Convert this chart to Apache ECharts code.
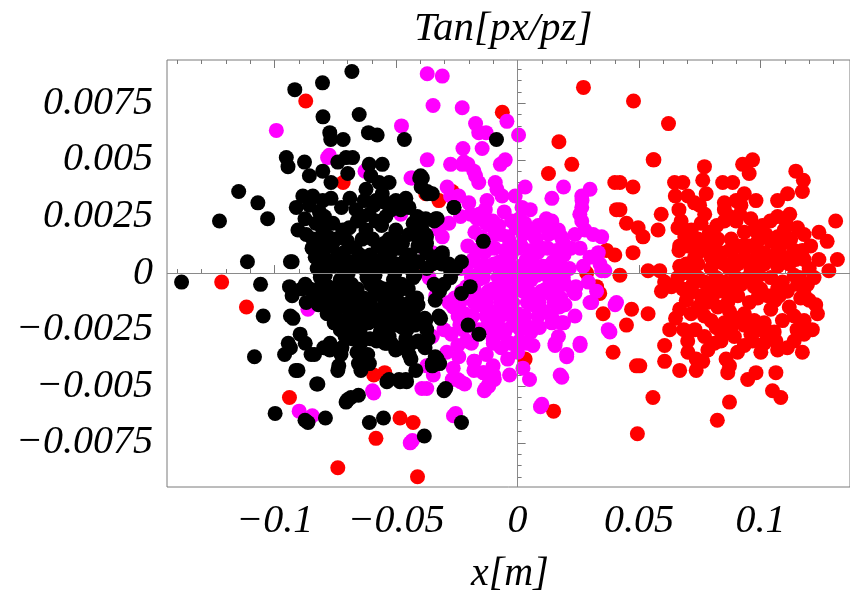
<!DOCTYPE html>
<html>
<head>
<meta charset="utf-8">
<script src="https://cdn.jsdelivr.net/npm/echarts@6/dist/echarts.min.js"></script>
<style>
  html, body { margin: 0; padding: 0; background: #fff; }
  #chart { width: 850px; height: 596px; }
</style>
</head>
<body>
<div id="chart"></div>
<script>
// tick values
const xMajor = [-0.1, -0.05, 0, 0.05, 0.1];
const xMinor = [-0.14, -0.13, -0.12, -0.11, -0.09, -0.08, -0.07, -0.06, -0.04, -0.03, -0.02, -0.01,
  0.01, 0.02, 0.03, 0.04, 0.06, 0.07, 0.08, 0.09, 0.11, 0.12, 0.13];
const yMajor = [-0.0075, -0.005, -0.0025, 0, 0.0025, 0.005, 0.0075];
const yMinor = [-0.009, -0.0085, -0.008, -0.007, -0.0065, -0.006, -0.0055, -0.0045, -0.004, -0.0035, -0.003,
  -0.002, -0.0015, -0.001, -0.0005, 0.0005, 0.001, 0.0015, 0.002, 0.003, 0.0035, 0.004, 0.0045,
  0.0055, 0.006, 0.0065, 0.007, 0.008, 0.0085, 0.009];

// [x (m), Tan[px/pz]]
const redPts = [
  [-0.0872,0.0076],[-0.0718,0.0040],[-0.0378,0.0035],[-0.0324,0.0032],[-0.0269,0.0036],[-0.1218,-0.0004],
  [-0.1116,-0.0015],[-0.0939,-0.0055],[-0.0740,-0.0086],[-0.0583,-0.0073],[-0.0412,-0.0090],[-0.0484,-0.0064],
  [-0.0430,-0.0066],[-0.0592,-0.0045],[-0.0547,-0.0044],[0.0148,-0.0061],[-0.0375,0.0001],[-0.0063,0.0071],
  [-0.0549,0.0007],[0.0031,-0.0038],
  [0.0284,0.0000],[0.0325,-0.0006],[0.0352,-0.0018],[0.0393,-0.0035],[0.0366,0.0010],[0.0400,0.0008],
  [0.0223,0.0048],[0.0127,0.0044],[0.0407,0.0028],[0.0400,0.0040],[0.0338,-0.0009],
  [0.0271,0.0082],[0.0477,0.0076],[0.0621,0.0066],[0.0170,0.0058],[0.0558,0.0050],
  [0.0561,0.0050],[0.0769,0.0047],[0.0762,0.0041],[0.0926,0.0048],[0.0967,0.0050],[0.0953,0.0044],
  [0.1145,0.0045],[0.1176,0.0041],[0.1172,0.0036],[0.0421,0.0040],[0.0475,0.0038],
  [0.0646,0.0040],[0.0680,0.0040],[0.0649,0.0034],[0.0701,0.0034],[0.0728,0.0031],[0.0776,0.0035],[0.0749,0.0030],
  [0.0844,0.0040],[0.0885,0.0040],[0.0851,0.0031],[0.0899,0.0032],[0.0933,0.0035],[0.0919,0.0030],[0.0981,0.0032],
  [0.1070,0.0032],[0.1111,0.0035],
  [0.0421,0.0028],[0.0448,0.0022],[0.0496,0.0020],[0.0516,0.0016],[0.0591,0.0026],[0.0578,0.0019],
  [0.0664,0.0028],[0.0673,0.0023],[0.0660,0.0020],[0.0688,0.0016],[0.0667,0.0012],
  [0.0851,0.0028],[0.0872,0.0025],[0.0851,0.0023],[0.0899,0.0023],
  [0.1070,0.0025],[0.1104,0.0023],[0.1309,0.0023],
  [0.0755,0.0022],[0.0789,0.0018],[0.0742,0.0015],[0.0783,0.0013],
  [0.0933,0.0018],[0.0974,0.0019],[0.1008,0.0021],[0.1022,0.0017],[0.1042,0.0014],[0.0988,0.0014],[0.0953,0.0012],
  [0.1179,0.0017],[0.1240,0.0018],[0.1274,0.0014],[0.1206,0.0012],[0.1172,0.0010],
  [0.1316,0.0006],[0.1281,0.0001],
  [0.0475,0.0009],[0.0421,-0.0001],[0.0537,0.0001],[0.0585,0.0001],
  [0.0664,0.0010],[0.0701,0.0012],[0.0728,0.0007],[0.0667,0.0003],[0.0694,0.0004],[0.0660,-0.0002],
  [0.0742,0.0009],[0.0796,0.0007],[0.0837,0.0009],[0.0872,0.0010],[0.0892,0.0006],[0.0933,0.0007],[0.0974,0.0006],
  [0.1015,0.0009],[0.1070,0.0010],[0.1097,0.0007],[0.1138,0.0010],[0.1179,0.0006],[0.1118,0.0004],[0.1070,0.0003],
  [0.1015,0.0004],[0.0960,0.0002],[0.0906,0.0004],[0.0851,0.0004],[0.0796,0.0002],[0.0742,0.0004],
  [0.0605,-0.0004],[0.0592,-0.0008],[0.0633,-0.0006],[0.0680,-0.0007],[0.0721,-0.0005],[0.0769,-0.0004],
  [0.0817,-0.0002],[0.0851,-0.0004],[0.0899,-0.0002],[0.0947,-0.0002],[0.0995,-0.0001],[0.1042,-0.0002],
  [0.1090,-0.0004],[0.1138,-0.0001],[0.1193,-0.0005],[0.1179,-0.0009],
  [0.0694,-0.0012],[0.0667,-0.0016],[0.0742,-0.0015],[0.0803,-0.0010],[0.0824,-0.0015],[0.0865,-0.0013],
  [0.0906,-0.0010],[0.0954,-0.0013],[0.0988,-0.0011],[0.1029,-0.0010],[0.1077,-0.0010],[0.1118,-0.0015],
  [0.1165,-0.0011],[0.1227,-0.0014],[0.1234,-0.0018],
  [0.0796,-0.0021],[0.0817,-0.0024],[0.0851,-0.0022],[0.0899,-0.0020],[0.0933,-0.0023],[0.0974,-0.0021],
  [0.1015,-0.0022],[0.1056,-0.0026],[0.1063,-0.0030],[0.1070,-0.0034],
  [0.0626,-0.0025],[0.0684,-0.0025],[0.0605,-0.0032],[0.0605,-0.0039],[0.0667,-0.0043],
  [0.0701,-0.0035],[0.0735,-0.0038],[0.0762,-0.0039],[0.0735,-0.0043],
  [0.0810,-0.0031],[0.0837,-0.0030],[0.0858,-0.0038],[0.0872,-0.0041],[0.0865,-0.0044],
  [0.0967,-0.0030],[0.0988,-0.0025],[0.1179,-0.0027],[0.1213,-0.0025],[0.1172,-0.0035],
  [0.0947,-0.0047],[0.0981,-0.0044],[0.1063,-0.0044],[0.1049,-0.0052],[0.1083,-0.0055],
  [0.0872,-0.0057],[0.0557,-0.0055],[0.0489,-0.0041],[0.0503,-0.0041],
  [0.0448,-0.0023],[0.0469,-0.0016],[0.0537,-0.0018],
  [0.0493,-0.0071],[0.0822,-0.0065],
  [0.0824,0.0015],[0.0879,0.0015],[0.0906,0.0012],[0.1070,0.0016],[0.1124,0.0015],[0.1152,0.0020],
  [0.0810,0.0012],[0.1097,0.0019],
  [0.0714,-0.0018],[0.0769,-0.0019],[0.0872,-0.0017],[0.0933,-0.0018],[0.1042,-0.0016],[0.1138,-0.0019],[0.1179,-0.0021],
  [0.0769,-0.0028],[0.0892,-0.0028],[0.0933,-0.0032],[0.1015,-0.0031],[0.1138,-0.0030],[0.0783,-0.0034],[0.1001,-0.0035],
  [0.0701,0.0000],[0.0742,-0.0002],[0.0796,-0.0006],[0.0879,-0.0007],[0.0974,-0.0006],[0.1070,-0.0007],
  [0.1152,-0.0005],[0.1220,-0.0002],[0.1240,0.0006],
  [0.0715,0.0019],[0.0770,0.0026],[0.0820,0.0021],[0.0915,0.0026],[0.0960,0.0024],[0.1040,0.0023],[0.1120,0.0026],
  [0.0720,0.0004],[0.0770,0.0011],[0.0820,0.0005],[0.0870,0.0002],[0.0930,0.0012],[0.0985,0.0010],[0.1040,0.0006],
  [0.1090,0.0013],[0.1145,0.0006],[0.1200,0.0002],
  [0.0705,-0.0009],[0.0755,-0.0010],[0.0845,-0.0008],[0.0920,-0.0005],[0.1000,-0.0007],[0.1060,-0.0012],
  [0.1110,-0.0008],[0.1160,-0.0002],
  [0.0730,-0.0025],[0.0780,-0.0013],[0.0840,-0.0027],[0.0880,-0.0024],[0.0960,-0.0027],[0.1020,-0.0026],
  [0.1090,-0.0021],[0.1150,-0.0025],[0.1200,-0.0012],
  [0.0650,-0.0020],[0.0700,-0.0030],[0.0905,-0.0035],[0.1110,-0.0033]
];

const magentaPts = [
  [-0.0372,0.0088],[-0.0310,0.0087],[-0.0348,0.0074],[-0.0228,0.0073],[-0.0044,0.0067],[-0.0173,0.0066],
  [-0.0160,0.0062],[-0.0130,0.0062],[0.0004,0.0061],[-0.0478,0.0065],[-0.0225,0.0055],[-0.0146,0.0055],
  [-0.0372,0.0050],[-0.0276,0.0048],[-0.0221,0.0049],[-0.0204,0.0048],[-0.0173,0.0043],[-0.0160,0.0040],
  [-0.0071,0.0048],[-0.0051,0.0050],[-0.0433,0.0042],[-0.0290,0.0038],[-0.0276,0.0034],[-0.0092,0.0040],
  [-0.0085,0.0037],[-0.0064,0.0034],[-0.0010,0.0034],[0.0031,0.0038],[0.0018,0.0029],[0.0141,0.0033],
  [0.0189,0.0038],[0.0264,0.0034],[0.0298,0.0037],[-0.0228,0.0048],[-0.0180,0.0045],[0.0264,0.0029],
  [-0.0242,0.0034],[-0.0201,0.0031],[-0.0235,0.0025],[-0.0194,0.0026],[-0.0167,0.0024],[-0.0133,0.0028],[-0.0126,0.0032],
  [0.0141,0.0023],[0.0168,0.0019],[0.0236,0.0017],[0.0277,0.0019],[0.0311,0.0017],[0.0346,0.0016],
  [0.0264,0.0023],[0.0257,0.0011],[0.0298,0.0007],[0.0332,0.0009],[0.0346,0.0001],[0.0265,0.0032],[0.0256,0.0026],
  [-0.0283,0.0022],[-0.0324,0.0019],[-0.0310,0.0016],[-0.0378,0.0010],[-0.0351,0.0009],
  [-0.0158,0.0026],[-0.0102,0.0023],[-0.0055,0.0027],[0.0008,0.0024],[0.0052,0.0028],[0.0118,0.0024],
  [-0.0176,0.0018],[-0.0114,0.0021],[-0.0068,0.0017],[-0.0006,0.0020],[0.0049,0.0018],[0.0096,0.0021],[0.0158,0.0018],
  [-0.0205,0.0012],[-0.0141,0.0015],[-0.0095,0.0011],[-0.0033,0.0014],[0.0015,0.0012],[0.0077,0.0015],
  [0.0123,0.0011],[0.0186,0.0014],[0.0219,0.0011],
  [-0.0183,0.0006],[-0.0137,0.0009],[-0.0074,0.0005],[-0.0027,0.0008],[0.0036,0.0006],[0.0082,0.0009],
  [0.0145,0.0005],[0.0191,0.0008],
  [-0.0232,0.0002],[-0.0169,-0.0001],[-0.0123,0.0003],[-0.0060,0.0000],[-0.0014,0.0002],[0.0041,-0.0001],
  [0.0104,0.0003],[0.0150,0.0000],[0.0213,0.0002],
  [-0.0210,-0.0006],[-0.0164,-0.0003],[-0.0101,-0.0007],[-0.0055,-0.0004],[0.0008,-0.0006],[0.0055,-0.0003],
  [0.0117,-0.0007],[0.0164,-0.0004],[0.0240,-0.0006],
  [-0.0259,-0.0011],[-0.0197,-0.0008],[-0.0150,-0.0012],[-0.0088,-0.0009],[-0.0041,-0.0011],[0.0022,-0.0008],
  [0.0068,-0.0012],[0.0131,-0.0009],[0.0178,-0.0011],
  [-0.0265,-0.0015],[-0.0218,-0.0018],[-0.0156,-0.0014],[-0.0109,-0.0017],[-0.0047,-0.0015],[0.0000,-0.0018],
  [0.0063,-0.0014],[0.0109,-0.0017],[0.0172,-0.0015],
  [-0.0238,-0.0023],[-0.0191,-0.0020],[-0.0129,-0.0024],[-0.0082,-0.0021],[-0.0019,-0.0023],[0.0027,-0.0020],[0.0090,-0.0024],
  [-0.0273,-0.0027],[-0.0210,-0.0030],[-0.0164,-0.0026],[-0.0101,-0.0029],[-0.0055,-0.0027],[0.0008,-0.0030],[0.0055,-0.0026],
  [-0.0292,-0.0035],[-0.0246,-0.0032],[-0.0129,-0.0036],[-0.0068,-0.0033],[0.0000,-0.0035],[0.0063,-0.0032],
  [-0.0374,-0.0041],[-0.0328,-0.0038],[-0.0265,-0.0042],[-0.0177,-0.0039],[-0.0101,-0.0041],[-0.0041,-0.0038],[0.0022,-0.0042],
  [-0.0347,-0.0045],[-0.0246,-0.0047],[-0.0142,-0.0044],[-0.0096,-0.0047],[-0.0033,-0.0045],[0.0049,-0.0047],
  [-0.0374,-0.0051],[-0.0218,-0.0049],[-0.0137,-0.0052],
  [-0.0130,0.0022],[-0.0078,0.0021],[-0.0025,0.0023],[0.0030,0.0022],[0.0085,0.0021],[0.0135,0.0022],
  [-0.0150,0.0016],[-0.0092,0.0017],[-0.0040,0.0016],[0.0022,0.0017],[0.0070,0.0016],[0.0127,0.0017],[0.0180,0.0016],
  [-0.0170,0.0010],[-0.0115,0.0011],[-0.0052,0.0010],[0.0000,0.0011],[0.0056,0.0010],[0.0100,0.0011],[0.0160,0.0010],
  [-0.0205,0.0004],[-0.0150,0.0003],[-0.0098,0.0004],[-0.0040,0.0004],[0.0012,0.0003],[0.0065,0.0004],
  [0.0125,0.0003],[0.0175,0.0004],
  [-0.0190,-0.0002],[-0.0140,-0.0002],[-0.0080,-0.0002],[-0.0032,-0.0002],[0.0025,-0.0002],[0.0080,-0.0001],
  [0.0128,-0.0002],[0.0188,-0.0002],
  [-0.0230,-0.0008],[-0.0176,-0.0008],[-0.0120,-0.0008],[-0.0065,-0.0008],[-0.0015,-0.0008],[0.0045,-0.0008],
  [0.0098,-0.0008],[0.0152,-0.0008],
  [-0.0237,-0.0013],[-0.0180,-0.0013],[-0.0128,-0.0013],[-0.0070,-0.0013],[-0.0020,-0.0013],[0.0040,-0.0013],
  [0.0088,-0.0013],[0.0150,-0.0013],
  [-0.0245,-0.0019],[-0.0185,-0.0019],[-0.0130,-0.0019],[-0.0070,-0.0019],[-0.0025,-0.0019],[0.0030,-0.0019],
  [0.0085,-0.0019],[0.0140,-0.0019],
  [-0.0225,-0.0025],[-0.0160,-0.0025],[-0.0105,-0.0025],[-0.0050,-0.0025],[0.0012,-0.0025],[0.0060,-0.0024],
  [-0.0190,-0.0031],[-0.0100,-0.0031],[-0.0030,-0.0031],[0.0035,-0.0031],
  [0.0195,-0.0005],[0.0230,-0.0008],[0.0195,-0.0014],[0.0141,-0.0022],[0.0182,-0.0022],[0.0236,-0.0019],
  [0.0168,-0.0028],[0.0154,-0.0031],[0.0202,-0.0036],[0.0257,-0.0031],[0.0182,-0.0046],[0.0291,-0.0004],
  [0.0305,-0.0013],[0.0339,0.0004],[0.0380,-0.0026],[0.0100,-0.0058],
  [-0.0255,-0.0062],[-0.0433,-0.0074],[-0.0119,-0.0050],[-0.0098,-0.0045],[-0.0139,-0.0044],[-0.0180,-0.0039],
  [-0.0235,-0.0048],[-0.0242,-0.0037],[0.0175,-0.0045],[0.0202,-0.0037],[0.0257,-0.0032],
  [0.0154,-0.0032],[0.0189,-0.0022],[0.0373,-0.0025],[0.0407,-0.0013],[0.0298,-0.0013],[0.0236,-0.0009],
  [0.0325,-0.0008],[0.0359,0.0001],[0.0270,0.0003],
  [-0.0365,-0.0002],[-0.0337,-0.0010],[-0.0283,-0.0013],[-0.0351,-0.0028],[-0.0303,-0.0025],
  [-0.0269,-0.0047],[-0.0180,-0.0043],[-0.0119,-0.0049],
  [-0.0993,0.0063],[-0.0782,0.0051],[-0.0628,0.0045],[-0.0439,0.0042],[-0.0863,-0.0016],[-0.0899,-0.0061],
  [-0.0845,-0.0063],[-0.0592,-0.0053],[-0.0442,-0.0075],[-0.0394,-0.0051],[-0.0264,-0.0063],[0.0094,-0.0059],
  [0.0401,-0.0014],[-0.0132,-0.0051],[-0.0481,0.0026],[-0.0775,0.0052],[-0.0597,-0.0052]
];

const blackPts = [
  [-0.1383,-0.0004],[-0.1227,0.0023],[-0.1148,0.0036],[-0.1069,0.0031],[-0.1029,0.0024],[-0.1112,0.0005],
  [-0.1058,-0.0005],[-0.1047,-0.0019],[-0.1083,-0.0037],[-0.0998,-0.0062],
  [-0.0917,0.0081],[-0.0803,0.0084],[-0.0682,0.0089],[-0.0801,0.0069],[-0.0652,0.0070],[-0.0773,0.0062],
  [-0.0769,0.0059],[-0.0718,0.0059],[-0.0614,0.0062],[-0.0578,0.0061],[-0.0466,0.0059],[-0.0087,0.0059],
  [-0.0952,0.0051],[-0.0945,0.0047],[-0.0877,0.0049],[-0.0857,0.0043],[-0.0802,0.0045],[-0.0768,0.0040],
  [-0.0740,0.0049],[-0.0706,0.0051],[-0.0679,0.0051],[-0.0699,0.0044],[-0.0611,0.0048],[-0.0557,0.0048],
  [-0.0604,0.0043],[-0.0570,0.0040],[-0.0529,0.0040],[-0.0624,0.0037],[-0.0631,0.0032],[-0.0399,0.0043],
  [-0.0372,0.0035],[-0.0351,0.0035],[-0.0262,0.0029],
  [-0.0884,0.0034],[-0.0843,0.0034],[-0.0911,0.0029],[-0.0857,0.0030],[-0.0802,0.0032],[-0.0768,0.0033],
  [-0.0816,0.0027],[-0.0795,0.0025],
  [-0.0557,0.0035],[-0.0583,0.0032],[-0.0542,0.0031],[-0.0501,0.0032],[-0.0481,0.0028],[-0.0447,0.0029],
  [-0.0413,0.0025],[-0.0378,0.0024],[-0.0331,0.0024],
  [-0.0665,0.0028],[-0.0638,0.0025],[-0.0611,0.0026],[-0.0583,0.0023],[-0.0542,0.0025],[-0.0624,0.0019],[-0.0597,0.0015],
  [-0.0904,0.0019],[-0.0870,0.0017],[-0.0843,0.0015],[-0.0802,0.0019],[-0.0747,0.0015],[-0.0720,0.0019],[-0.0693,0.0020],
  [-0.0501,0.0019],[-0.0447,0.0017],[-0.0406,0.0015],[-0.0474,0.0013],[-0.0529,0.0015],
  [-0.0846,0.0011],[-0.0798,0.0008],[-0.0765,0.0012],[-0.0716,0.0009],[-0.0669,0.0011],[-0.0607,0.0008],
  [-0.0574,0.0012],[-0.0525,0.0009],[-0.0492,0.0011],[-0.0443,0.0008],[-0.0410,0.0012],[-0.0374,0.0009],
  [-0.0928,0.0005],[-0.0833,0.0007],[-0.0777,0.0004],[-0.0744,0.0007],[-0.0689,0.0005],[-0.0649,0.0008],
  [-0.0593,0.0005],[-0.0553,0.0007],[-0.0497,0.0004],[-0.0458,0.0007],[-0.0409,0.0005],
  [-0.0825,0.0002],[-0.0792,-0.0001],[-0.0730,0.0003],[-0.0697,0.0000],[-0.0634,0.0002],[-0.0587,-0.0001],
  [-0.0538,0.0003],[-0.0505,0.0000],[-0.0443,0.0002],[-0.0423,-0.0001],[-0.0374,0.0002],
  [-0.0874,-0.0005],[-0.0812,-0.0002],[-0.0779,-0.0006],[-0.0730,-0.0003],[-0.0683,-0.0005],[-0.0620,-0.0002],
  [-0.0574,-0.0006],[-0.0511,-0.0003],[-0.0478,-0.0005],[-0.0429,-0.0002],
  [-0.0928,-0.0010],[-0.0888,-0.0007],[-0.0839,-0.0011],[-0.0792,-0.0008],[-0.0743,-0.0010],[-0.0697,-0.0007],
  [-0.0634,-0.0011],[-0.0587,-0.0008],[-0.0525,-0.0010],[-0.0478,-0.0007],[-0.0415,-0.0011],
  [-0.0820,-0.0014],[-0.0743,-0.0016],[-0.0710,-0.0013],[-0.0661,-0.0016],[-0.0628,-0.0014],[-0.0566,-0.0016],
  [-0.0519,-0.0013],[-0.0470,-0.0016],[-0.0410,-0.0014],
  [-0.0924,-0.0020],[-0.0784,-0.0018],[-0.0724,-0.0021],[-0.0634,-0.0019],[-0.0587,-0.0021],[-0.0525,-0.0018],
  [-0.0485,-0.0020],[-0.0429,-0.0018],[-0.0382,-0.0020],
  [-0.0730,-0.0025],[-0.0697,-0.0023],[-0.0648,-0.0025],[-0.0615,-0.0022],[-0.0552,-0.0025],[-0.0505,-0.0023],
  [-0.0456,-0.0025],[-0.0423,-0.0023],[-0.0374,-0.0025],
  [-0.0895,-0.0027],[-0.0682,-0.0029],[-0.0656,-0.0027],[-0.0607,-0.0029],[-0.0546,-0.0027],[-0.0368,-0.0029],
  [-0.0935,-0.0033],[-0.0874,-0.0031],[-0.0798,-0.0033],[-0.0772,-0.0031],[-0.0723,-0.0033],[-0.0546,-0.0031],
  [-0.0484,-0.0033],[-0.0437,-0.0031],[-0.0381,-0.0033],
  [-0.0959,-0.0036],[-0.0850,-0.0036],[-0.0727,-0.0036],[-0.0617,-0.0036],[-0.0447,-0.0036],
  [-0.0652,-0.0040],[-0.0351,-0.0040],[-0.0337,-0.0040],
  [-0.0904,-0.0043],[-0.0740,-0.0043],[-0.0645,-0.0043],[-0.0419,-0.0043],
  [-0.0529,-0.0047],[-0.0488,-0.0047],[-0.0460,-0.0047],
  [-0.0822,-0.0049],[-0.0296,-0.0051],[-0.0686,-0.0055],[-0.0706,-0.0057],
  [-0.0725,0.0029],[-0.0690,0.0033],[-0.0590,0.0030],[-0.0520,0.0028],[-0.0460,0.0033],[-0.0430,0.0022],
  [-0.0560,0.0021],[-0.0660,0.0023],[-0.0760,0.0022],[-0.0830,0.0022],[-0.0875,0.0024],
  [-0.0815,0.0013],[-0.0780,0.0016],[-0.0700,0.0014],[-0.0640,0.0015],[-0.0550,0.0013],[-0.0500,0.0015],
  [-0.0420,0.0019],[-0.0395,0.0020],
  [-0.0810,0.0004],[-0.0760,0.0003],[-0.0715,0.0004],[-0.0665,0.0003],[-0.0615,0.0004],[-0.0565,0.0003],
  [-0.0520,0.0005],[-0.0475,0.0003],[-0.0430,0.0004],
  [-0.0855,-0.0007],[-0.0810,-0.0006],[-0.0760,-0.0007],[-0.0715,-0.0006],[-0.0660,-0.0007],[-0.0605,-0.0005],
  [-0.0550,-0.0007],[-0.0500,-0.0006],[-0.0450,-0.0007],
  [-0.0870,-0.0013],[-0.0810,-0.0012],[-0.0770,-0.0013],[-0.0720,-0.0011],[-0.0680,-0.0012],[-0.0605,-0.0012],
  [-0.0550,-0.0011],[-0.0495,-0.0012],[-0.0445,-0.0013],
  [-0.0760,-0.0017],[-0.0690,-0.0018],[-0.0610,-0.0017],[-0.0545,-0.0019],[-0.0505,-0.0017],[-0.0455,-0.0019],
  [-0.0755,-0.0022],[-0.0670,-0.0021],[-0.0570,-0.0022],[-0.0530,-0.0021],[-0.0480,-0.0022],[-0.0400,-0.0022],
  [-0.0710,-0.0028],[-0.0580,-0.0030],[-0.0520,-0.0031],[-0.0460,-0.0029],[-0.0410,-0.0030],
  [-0.0310,0.0009],[-0.0283,0.0004],[-0.0344,-0.0005],[-0.0324,-0.0007],[-0.0317,-0.0020],
  [-0.0403,0.0042],[-0.0397,0.0038],[-0.0343,0.0023],[-0.0375,0.0016],[-0.0375,0.0013],[-0.0321,0.0008],
  [-0.0312,0.0004],[-0.0276,0.0001],[-0.0231,0.0005],[-0.0276,-0.0002],[-0.0195,-0.0006],[-0.0231,-0.0009],
  [-0.0321,-0.0008],[-0.0339,-0.0012],[-0.0204,-0.0023],[-0.0159,-0.0027],[-0.0141,0.0014],[-0.0384,-0.0023],
  [-0.0394,-0.0031],[-0.0321,-0.0040],[-0.0339,-0.0037],[-0.0439,-0.0038],[-0.0303,-0.0052],[-0.0538,-0.0048],
  [-0.0484,-0.0048],[-0.0457,-0.0048],[-0.0655,-0.0040],[-0.0610,-0.0040],[-0.0700,-0.0056],[-0.0655,-0.0054],
  [-0.0827,-0.0049],[-0.0863,-0.0066],[-0.0875,-0.0065],[-0.0791,-0.0064],[-0.0610,-0.0066],[-0.0552,-0.0064],
  [-0.0384,-0.0072],[-0.0231,-0.0066],[-0.0913,-0.0043],[-0.0944,-0.0031],[-0.0736,-0.0041],[-0.0836,-0.0036],
  [-0.0773,-0.0034],[-0.0661,-0.0035],[-0.0646,-0.0031],[-0.0935,-0.0019],[-0.0939,-0.0006],[-0.0935,0.0005],
  [-0.0430,-0.0021],[-0.0475,-0.0024],[-0.0538,-0.0024],[-0.0565,-0.0026],[-0.0529,-0.0028],[-0.0538,-0.0031],
  [-0.0502,-0.0034],
  [-0.0392,0.0042],[-0.0372,0.0036],[-0.0262,0.0029],[-0.0337,0.0024],[-0.0378,0.0017],[-0.0310,0.0008],
  [-0.0351,0.0004],[-0.0276,0.0003],[-0.0255,0.0002],[-0.0324,-0.0006],[-0.0303,-0.0005],[-0.0324,-0.0019],
  [-0.0378,-0.0021],[-0.0385,-0.0031],[-0.0331,-0.0038],[-0.0351,-0.0041]
];

const X_MIN = -0.1443, X_MAX = 0.1368;
const Y_MIN = -0.00945, Y_MAX = 0.00941;
const serif = 'Liberation Serif';
const frameColor = '#7a7a7a';
const DOT = 15;

function fmt(v) {
  if (v === 0) return '0';
  const s = String(Math.abs(v));
  return v < 0 ? '\u2212' + s : s;
}

// one axis carries either the major ticks (with labels) or the minor ticks
function tickAxis(kind, pos, major, minorVals, withLabels) {
  const isMajor = !minorVals;
  const base = {
    type: 'value',
    position: pos,
    min: kind === 'x' ? X_MIN : Y_MIN,
    max: kind === 'x' ? X_MAX : Y_MAX,
    axisLine: { show: false },
    splitLine: { show: false },
    axisTick: {
      show: true,
      inside: true,
      length: isMajor ? 8 : 4,
      customValues: isMajor ? major : minorVals,
      lineStyle: { color: frameColor, width: 1 }
    },
    axisLabel: { show: false }
  };
  if (withLabels) {
    base.axisLabel = {
      show: true,
      customValues: major,
      formatter: fmt,
      fontFamily: serif,
      fontStyle: 'italic',
      fontSize: 40,
      color: '#000',
      margin: 14
    };
  }
  return base;
}

const chart = echarts.init(document.getElementById('chart'));
chart.setOption({
  animation: false,
  backgroundColor: '#fff',
  grid: {
    left: 167, top: 60, width: 686, height: 427,
    show: true, borderColor: frameColor, borderWidth: 1, backgroundColor: 'transparent'
  },
  xAxis: [
    tickAxis('x', 'bottom', xMajor, null, true),
    tickAxis('x', 'bottom', xMajor, xMinor, false),
    tickAxis('x', 'top', xMajor, null, false),
    tickAxis('x', 'top', xMajor, xMinor, false)
  ],
  yAxis: [
    tickAxis('y', 'left', yMajor, null, true),
    tickAxis('y', 'left', yMajor, yMinor, false)
  ],
  graphic: [
    {
      type: 'text', left: 414, top: 9,
      style: { text: 'Tan[px/pz]', font: 'italic 41px "Liberation Serif"', fill: '#000' }
    },
    {
      type: 'text', left: 471, top: 554,
      style: { text: 'x[m]', font: 'italic 40px "Liberation Serif"', fill: '#000' }
    }
  ],
  series: [
    {
      type: 'line',
      data: [],
      silent: true,
      markLine: {
        silent: true,
        symbol: 'none',
        label: { show: false },
        lineStyle: { color: '#8a8a8a', width: 1, type: 'solid' },
        data: [{ xAxis: 0 }, { yAxis: 0 }]
      }
    },
    {
      type: 'scatter', data: redPts, symbol: 'circle', symbolSize: DOT,
      itemStyle: { color: '#ff0000', opacity: 1 }
    },
    {
      type: 'scatter', data: magentaPts, symbol: 'circle', symbolSize: DOT,
      itemStyle: { color: '#ff00ff', opacity: 1 }
    },
    {
      type: 'scatter', data: blackPts, symbol: 'circle', symbolSize: DOT,
      itemStyle: { color: '#000000', opacity: 1 }
    }
  ]
});
</script>
</body>
</html>
